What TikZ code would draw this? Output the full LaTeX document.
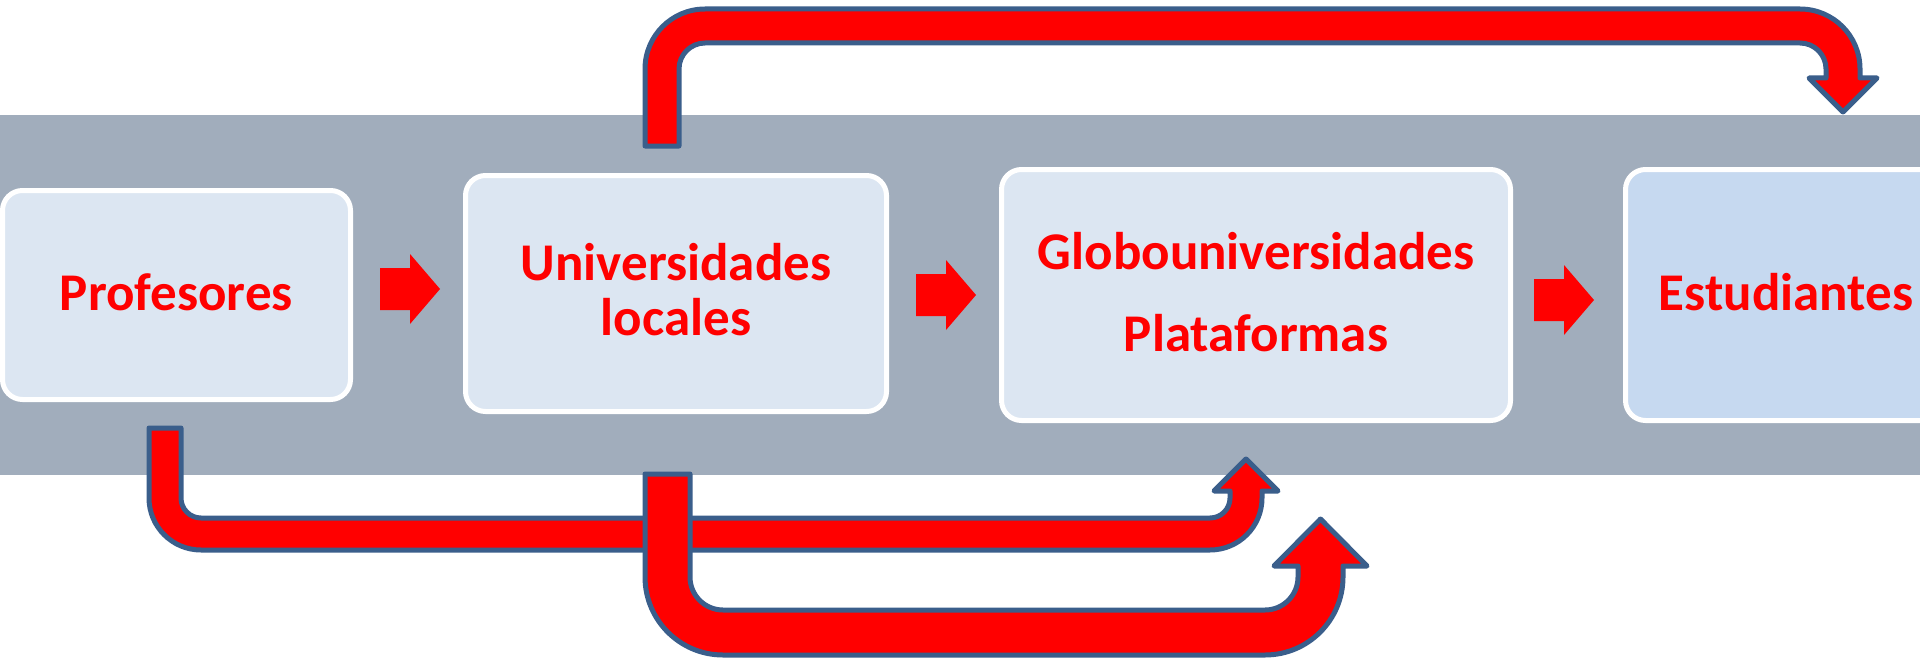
\documentclass[tikz,border=0pt]{standalone}
\usepackage{fontspec}
\setmainfont{Carlito}
\definecolor{bandgray}{RGB}{161,173,188}
\definecolor{boxblue}{RGB}{220,230,242}
\definecolor{boxblue2}{RGB}{198,217,240}
\definecolor{arrowblue}{RGB}{58,94,139}
\definecolor{pptred}{RGB}{255,0,0}
\begin{document}
\begin{tikzpicture}[x=0.5pt,y=-0.5pt,
  stage/.style={draw=white, line width=2.5pt, fill=boxblue, rounded corners=10pt, inner sep=0pt},
  stagetext/.style={text=pptred, font=\fontsize{26.5pt}{27.5pt}\selectfont\bfseries, inner sep=0pt, anchor=base},
  smallarrow/.style={fill=pptred, draw=none},
  bentarrow/.style={fill=pptred, draw=arrowblue, line width=2.5pt, line join=round}]
\useasboundingbox (0,0) rectangle (1920,658);
\begin{scope}
\clip (0,0) rectangle (1920,658);
% band
\fill[bandgray] (0,115) rectangle (1920,475);
% boxes
\node[stage, minimum width=174pt, minimum height=104.5pt] (prof) at (176.5,295) {};
\node[stage, minimum width=210.5pt, minimum height=118pt] (univ) at (676,293.5) {};
\node[stage, minimum width=254.5pt, minimum height=125.5pt] (glob) at (1256,295) {};
\node[stage, fill=boxblue2, minimum width=160.5pt, minimum height=125.5pt] (estu) at (1786,295) {};
% texts
\node[stagetext] (proft) at (176.5,310) {Profesores};
\node[stagetext] (univt1) at (676,280) {Universidades};
\node[stagetext] (univt2) at (676,335) {locales};
\node[stagetext] (globt1) at (1256,269) {Globouniversidades};
\node[stagetext] (globt2) at (1256,351) {Plataformas};
\node[stagetext] (estut) at (1786,310) {Estudiantes};
% small arrows
\fill[smallarrow] (380,268) -- (410,268) -- (410,254) -- (440,289) -- (410,324) -- (410,310) -- (380,310) -- cycle;
\fill[smallarrow] (916,274) -- (946,274) -- (946,260) -- (976,295) -- (946,330) -- (946,316) -- (916,316) -- cycle;
\fill[smallarrow] (1534,279) -- (1564,279) -- (1564,265) -- (1594,300) -- (1564,335) -- (1564,321) -- (1534,321) -- cycle;
% top bent arrow
\draw[bentarrow] (645,146) -- (645,69) arc[start angle=180,end angle=90,radius=30pt]
  -- (1800,9) arc[start angle=90,end angle=0,radius=30pt]
  -- (1860,78) -- (1877,78) -- (1843,112) -- (1809,78) -- (1826,78) -- (1826,69)
  arc[start angle=0,end angle=90,radius=13pt]
  -- (705,43) arc[start angle=90,end angle=180,radius=13pt]
  -- (679,146) -- cycle;
% bottom arrow 1
\draw[bentarrow] (149,428) -- (149,498) arc[start angle=180,end angle=270,radius=26pt]
  -- (1210,550) arc[start angle=270,end angle=360,radius=26pt]
  -- (1262,491) -- (1278,491) -- (1246,459) -- (1214,491) -- (1230,491) -- (1230,498)
  arc[start angle=0,end angle=-90,radius=10pt]
  -- (201,518) arc[start angle=270,end angle=180,radius=10pt]
  -- (181,428) -- cycle;
% bottom arrow 2
\draw[bentarrow] (645,474) -- (645,577) arc[start angle=180,end angle=270,radius=39pt]
  -- (1265,655) arc[start angle=270,end angle=360,radius=39pt]
  -- (1343,566) -- (1367,566) -- (1320.5,519) -- (1274,566) -- (1298,566) -- (1298,577)
  arc[start angle=0,end angle=-90,radius=16.5pt]
  -- (723,610) arc[start angle=270,end angle=180,radius=16.5pt]
  -- (690,474) -- cycle;
\end{scope}
\end{tikzpicture}
\end{document}
